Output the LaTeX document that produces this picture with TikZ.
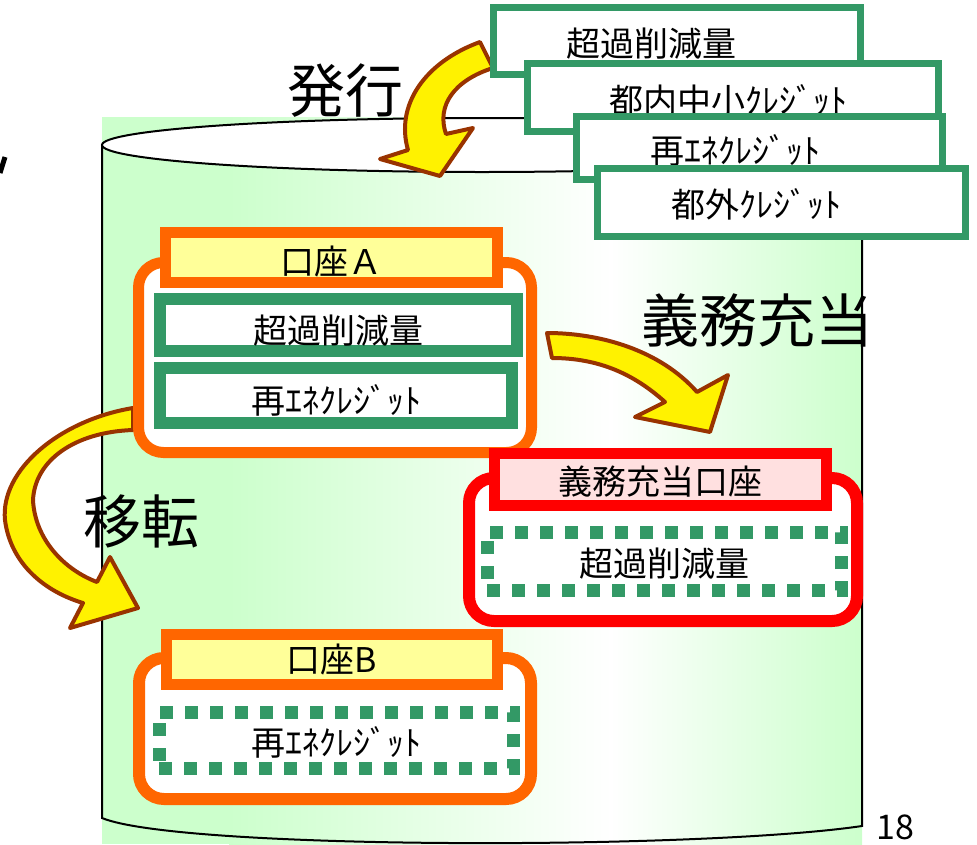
\documentclass[tikz,border=0pt]{standalone}
\usepackage{fontspec}
\setmainfont{Noto Sans CJK JP}
\usetikzlibrary{calc}
\definecolor{kgreen}{HTML}{339966}
\definecolor{korange}{HTML}{FF6600}
\definecolor{kyellow}{HTML}{FFFF99}
\definecolor{kpink}{HTML}{FFE0E0}
\definecolor{cgreen}{HTML}{CCFFCC}
\definecolor{abrown}{HTML}{993300}
\newcommand{\labfont}{\fontsize{58pt}{64pt}\selectfont}
\newcommand{\boxfont}{\fontsize{34pt}{40pt}\selectfont}

\begin{document}
\begin{tikzpicture}[x=1pt, y=-1pt, every node/.style={font=\boxfont, inner sep=0pt},
	tbox/.style={draw=kgreen, line width=7pt, fill=white},
	acc/.style={draw=korange, line width=11pt, fill=white, rounded corners=25pt},
	head/.style={draw=korange, line width=11pt, fill=kyellow, text height=34pt, text depth=0pt},
	gbox/.style={draw=kgreen, line width=12pt, fill=white, text height=36pt, text depth=0pt},
	dbox/.style={draw=kgreen, line width=13pt, dash pattern=on 13pt off 12pt, text height=30pt, text depth=0pt},
	blk/.style={fill=yellow, draw=abrown, line width=4pt, line join=round}]
		\useasboundingbox (0,0) rectangle (977,844);
		% cylinder
		\fill[cgreen] (102,117) rectangle (230,844);
		\shade[left color=cgreen, right color=white] (229,117) rectangle (612,844);
		\shade[left color=white, right color=cgreen] (610,117) rectangle (862,844);
		\draw[line width=2pt] (102,145) -- (102,818) .. controls (180,850) and (700,850) .. (862,826) -- (862,145);
		\draw[line width=2pt, fill=white] (482,145) ellipse [x radius=380, y radius=27];
		% arrows
		\draw[blk] (480,42) .. controls (425,62) and (395,105) .. (408,150) -- (380,159) -- (440,176) -- (473,128) -- (446,134) .. controls (436,105) and (455,80) .. (493,68) -- cycle;
		\draw[blk] (133,408) .. controls (60,420) and (0,470) .. (5,520) .. controls (10,560) and (40,590) .. (83,603) -- (70,628) -- (138,608) -- (110,557) -- (97,582) .. controls (65,570) and (35,540) .. (33,500) .. controls (35,460) and (75,432) .. (133,430) -- cycle;
		\draw[blk] (547,333) .. controls (600,333) and (660,350) .. (697,392) -- (728,375) -- (710,432) -- (635,417) -- (665,402) .. controls (635,375) and (600,358) .. (552,358) -- cycle;
		% accounts
		\node (A) [acc, minimum width=393pt, minimum height=190pt] at (335,357.5) {};
		\node (Ah) [head, minimum width=332pt, minimum height=50pt] at (331.5,257.5) {口座Ａ};
		\node (A1) [gbox, minimum width=357pt, minimum height=52pt] at (338.5,325) {超過削減量};
		\node (A2) [gbox, minimum width=352pt, minimum height=55pt] at (336,395.5) {再ｴﾈｸﾚｼﾞｯﾄ};
		\node (B) [acc, minimum width=392pt, minimum height=141pt, line width=12pt] at (335,728.5) {};
		\node (Bh) [head, text height=30pt, text depth=4pt, minimum width=331pt, minimum height=50pt] at (332,659.5) {口座B};
		\node (Bd) [dbox, minimum width=354pt, minimum height=56pt] at (336,740) {再ｴﾈｸﾚｼﾞｯﾄ};
		\node (G) [acc, draw=red, minimum width=388pt, minimum height=143pt, line width=12pt] at (663,549.5) {};
		\node (Gh) [head, draw=red, fill=kpink, text height=30pt, minimum width=332pt, minimum height=52pt] at (660.5,479.5) {義務充当口座};
		\node (Gd) [dbox, minimum width=354pt, minimum height=58pt] at (664,561) {超過削減量};
		% credits
		\node (T1) [tbox, minimum width=367pt, minimum height=67pt] at (677,41) {};
		\node (t1) at (651,44) {超過削減量};
		\node (T2) [tbox, minimum width=411pt, minimum height=68pt] at (733,97.5) {};
		\node (t2) at (728,100) {都内中小ｸﾚｼﾞｯﾄ};
		\node (T3) [tbox, minimum width=366pt, minimum height=63pt] at (759.5,148) {};
		\node (t3) at (735,150) {再ｴﾈｸﾚｼﾞｯﾄ};
		\node (T4) [tbox, minimum width=368pt, minimum height=68pt] at (781.5,202.5) {};
		\node (t4) at (756,204) {都外ｸﾚｼﾞｯﾄ};
		% labels
		\node (L1) [font=\labfont] at (345,91) {発行};
		\node (L2) [font=\labfont] at (757,320) {義務充当};
		\node (L3) [font=\labfont] at (141,521) {移転};
		\node (P) [font=\fontsize{34pt}{40pt}\selectfont] at (895,827) {18};
		\draw[line width=5pt] (5,157) -- (0,173);
		\end{tikzpicture}
\end{document}
